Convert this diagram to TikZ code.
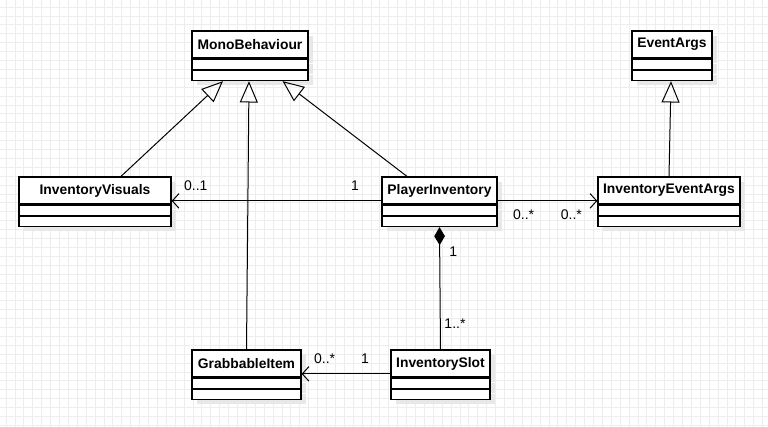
\documentclass[tikz,border=0pt]{standalone}
\usepackage{fontspec}
\setmainfont{Liberation Sans}
\usetikzlibrary{arrows.meta,shadows}

\begin{document}
\begin{tikzpicture}
[x=0.75pt,y=-0.75pt
,gridline/.style={draw=black!7,line width=0.5pt}
,cls/.style={draw,fill=white,line width=0.95pt,minimum height=20.25pt,inner sep=0pt
  ,font=\bfseries\fontsize{10.4}{12}\selectfont
  ,drop shadow={shadow xshift=3.5pt,shadow yshift=-3.5pt,fill=black!9,opacity=1}}
,cmp/.style={cls,minimum height=7.5pt}
,inh/.style={draw,line width=0.75pt,-{Triangle[open,length=16pt,width=13.5pt]}}
,asc/.style={draw,line width=0.75pt,-{Straight Barb[length=5pt,width=11pt]}}
,cmps/.style={draw,line width=0.75pt,{Diamond[length=13.5pt,width=8pt]}-}
,lbl/.style={inner sep=0pt,font=\fontsize{10.5}{12}\selectfont}]
\useasboundingbox[fill=white] (0,0) rectangle (768,427);
\foreach \g in {6,14.9,...,768} \draw[gridline] (\g,0) -- (\g,427);
\foreach \g in {7,15.9,...,427} \draw[gridline] (0,\g) -- (768,\g);
% classes: name part, then two empty parts
\foreach \n/\x/\y/\w/\t in {mb/250/44.5/116/MonoBehaviour,ea/672/44.5/80/EventArgs
  ,iv/95/190.5/152/InventoryVisuals,pi/439.5/190.5/115/PlayerInventory
  ,iea/669/190.5/142/InventoryEventArgs,gi/246.5/363.5/109/GrabbableItem
  ,is/440.5/363.5/99/InventorySlot}
{
\node[cls,minimum width=\w*0.75pt] (\n) at (\x,\y) {\t};
\node[cmp,minimum width=\w*0.75pt,anchor=north] (\n-a) at (\n.south) {};
\node[cmp,minimum width=\w*0.75pt,anchor=north] (\n-b) at (\n-a.south) {};
}
% generalisation
\draw[inh] ([xshift=19.5pt]iv.north) -- ([xshift=-20.25pt]mb-b.south);
\draw[inh] (gi.north) -- ([xshift=-0.75pt]mb-b.south);
\draw[inh] ([xshift=-24.4pt]pi.north) -- ([xshift=24.4pt]mb-b.south);
\draw[inh] (iea.north) -- ([xshift=-0.75pt]ea-b.south);
% associations
\draw[asc] ([yshift=-7.8pt]pi.west) --
  node[lbl,at start,anchor=south east,xshift=-16.5pt,yshift=7.5pt] {1}
  node[lbl,at end,anchor=south west,xshift=9pt,yshift=7.5pt] {0..1}
  ([yshift=-7.8pt]iv.east);
\draw[asc] ([yshift=-7.8pt]pi.east) --
  node[lbl,at start,anchor=north west,xshift=11.25pt,yshift=-6pt] {0..*}
  node[lbl,at end,anchor=north east,xshift=-11.25pt,yshift=-6pt] {0..*}
  ([yshift=-7.8pt]iea.west);
\draw[asc] ([yshift=-7.8pt]is.west) --
  node[lbl,at start,anchor=south east,xshift=-15.75pt,yshift=7.5pt] {1}
  node[lbl,at end,anchor=south west,xshift=9pt,yshift=7.5pt] {0..*}
  ([yshift=-7.8pt]gi.east);
% composition
\draw[cmps] (pi-b.south) --
  node[lbl,at start,anchor=north west,xshift=7pt,yshift=-14.25pt] {1}
  node[lbl,at end,anchor=south west,xshift=2.6pt,yshift=15pt] {1..*}
  (is.north);
\end{tikzpicture}
\end{document}
